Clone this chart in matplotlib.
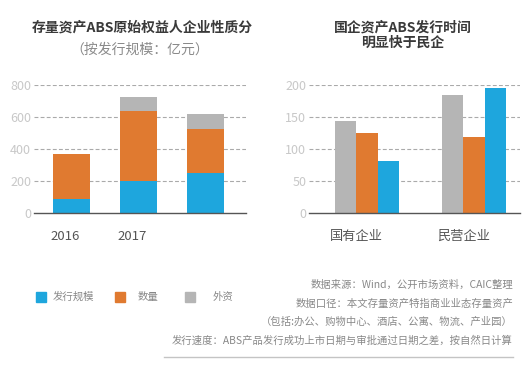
import matplotlib
matplotlib.use("Agg")
import matplotlib.pyplot as plt
import numpy as np

plt.rcParams['font.family'] = ['Noto Sans CJK SC', 'DejaVu Sans']

# Left chart data (stacked)
years = ['2016', '2017', '']
issue_scale = [90, 200, 250]
quantity = [280, 440, 275]
foreign = [0, 85, 95]

# Right chart data (grouped)
groups = ['国有企业', '民营企业']
r_gray = [143, 185]
r_orange = [125, 118]
r_blue = [81, 195]

BLUE = '#1ea6dd'
ORANGE = '#e07a30'
GRAY = '#b5b5b5'

W, H = 532, 368
fig = plt.figure(figsize=(W/100, H/100), dpi=100)

def px_axes(x0, x1, ytop, ybot):
    return fig.add_axes([x0/W, 1-ybot/H, (x1-x0)/W, (ybot-ytop)/H])

def style(ax, ymax, step):
    ax.set_ylim(0, ymax)
    ax.set_yticks(np.arange(0, ymax+1, step))
    for s in ['left', 'right', 'top']:
        ax.spines[s].set_visible(False)
    ax.spines['bottom'].set_color('#555555')
    ax.spines['bottom'].set_linewidth(1.0)
    ax.tick_params(axis='both', length=0)
    ax.tick_params(axis='y', labelcolor='#c8c8c8', labelsize=9, pad=2)
    ax.tick_params(axis='x', labelcolor='#555555', labelsize=9.5, pad=12)
    for v in np.arange(step, ymax+1, step):
        ax.axhline(v, color='#aaaaaa', lw=0.8, dashes=(3.5, 2), zorder=0)

# Left axes
ax1 = px_axes(34, 246, 85, 213)
x = np.arange(len(years))
w = 0.55
ax1.bar(x, issue_scale, w, color=BLUE, zorder=2)
ax1.bar(x, quantity, w, bottom=issue_scale, color=ORANGE, zorder=2)
ax1.bar(x, foreign, w, bottom=np.array(issue_scale)+np.array(quantity), color=GRAY, zorder=2)
ax1.set_xlim(-0.56, 2.6)
style(ax1, 800, 200)
ax1.set_xticks(x - 0.1)
ax1.set_xticklabels(years)

# Right axes
ax2 = px_axes(309, 520, 85, 213)
g = np.arange(len(groups))
bw = 0.2
ax2.bar(g - bw, r_gray, bw, color=GRAY, zorder=2)
ax2.bar(g, r_orange, bw, color=ORANGE, zorder=2)
ax2.bar(g + bw, r_blue, bw, color=BLUE, zorder=2)
ax2.set_xlim(-0.54, 1.43)
style(ax2, 200, 50)
ax2.set_xticks(g - 0.1)
ax2.set_xticklabels(groups)

# Titles
fig.text(142/W, 1-28/H, '存量资产ABS原始权益人企业性质分', ha='center', va='center',
         fontsize=10, fontweight='bold', color='#3a3a3a')
fig.text(140/W, 1-50/H, '（按发行规模：亿元）', ha='center', va='center',
         fontsize=10, color='#8a8a8a')
fig.text(403/W, 1-28/H, '国企资产ABS发行时间', ha='center', va='center',
         fontsize=10, fontweight='bold', color='#3a3a3a')
fig.text(403/W, 1-43/H, '明显快于民企', ha='center', va='center',
         fontsize=10, fontweight='bold', color='#3a3a3a')

# Legend
legend_items = [('发行规模', BLUE, 36, 53), ('数量', ORANGE, 115, 138), ('外资', GRAY, 185, 213)]
for label, col, sx, tx in legend_items:
    fig.patches.append(plt.Rectangle((sx/W, 1-302/H), 10/W, 10/H, transform=fig.transFigure,
                                     color=col, figure=fig))
    fig.text(tx/W, 1-297/H, label, ha='left', va='center', fontsize=7.5, color='#888888')

# Footnotes
notes = ['数据来源：Wind，公开市场资料，CAIC整理',
         '数据口径：本文存量资产特指商业业态存量资产',
         '（包括:办公、购物中心、酒店、公寓、物流、产业园）',
         '发行速度：ABS产品发行成功上市日期与审批通过日期之差，按自然日计算']
ys = [285, 304, 322, 341]
for t, yy in zip(notes, ys):
    fig.text(513/W, 1-yy/H, t, ha='right', va='center', fontsize=7.45, color='#888888')
fig.add_artist(plt.Line2D([164/W, 513/W], [1-357/H, 1-357/H], transform=fig.transFigure,
                          color='#c4c4c4', lw=1))

fig.savefig('out.png', dpi=100, facecolor='white')
